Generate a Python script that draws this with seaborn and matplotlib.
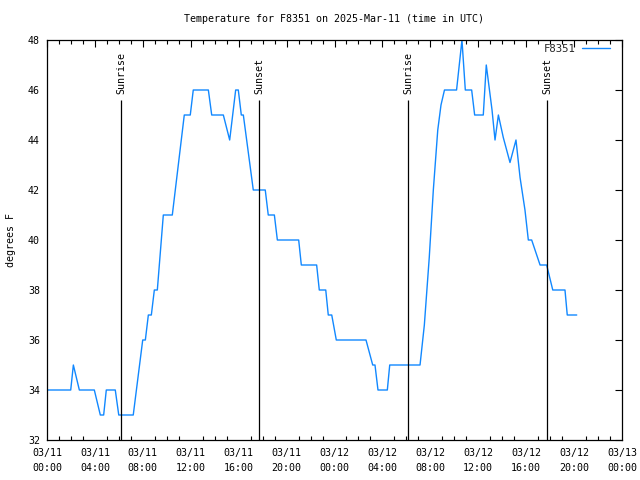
import matplotlib
matplotlib.use("Agg")
import matplotlib.pyplot as plt
from matplotlib.ticker import MultipleLocator
import seaborn as sns
import pandas as pd

# ---- data (hours since 2025-03-11 00:00 UTC, degrees F) ----
hours = [0.0, 1.98, 2.20, 2.70, 3.95, 4.45, 4.73, 4.95, 5.70, 5.99, 7.20,
         7.99, 8.21, 8.46, 8.71, 8.96, 9.21, 9.71, 10.46, 11.46, 11.96,
         12.21, 13.47, 13.75, 14.72, 15.25, 15.75, 15.97, 16.22, 16.39,
         17.22, 18.22, 18.47, 18.98, 19.23, 21.01, 21.23, 22.51, 22.73,
         23.27, 23.48, 23.77, 24.15, 26.63, 27.19, 27.38, 27.63, 28.41,
         28.61, 31.14, 31.50, 31.91, 32.25, 32.62, 32.89, 33.18, 34.19,
         34.64, 34.92, 35.45, 35.70, 36.42, 36.67, 37.15, 37.40, 37.68,
         38.09, 38.65, 39.15, 39.49, 39.90, 40.18, 40.46, 41.16, 41.71,
         42.22, 43.24, 43.43, 44.22]
temps = [34, 34, 35, 34, 34, 33, 33, 34, 34, 33, 33,
         36, 36, 37, 37, 38, 38, 41, 41, 45, 45,
         46, 46, 45, 45, 44, 46, 46, 45, 45,
         42, 42, 41, 41, 40, 40, 39, 39, 38,
         38, 37, 37, 36, 36, 35, 35, 34, 34,
         35, 35, 36.6, 39.3, 42, 44.4, 45.4, 46, 46,
         48, 46, 46, 45, 45, 47, 45.2, 44, 45,
         44.1, 43.1, 44, 42.5, 41.2, 40, 40, 39, 39,
         38, 38, 37, 37]

event_hours = [6.18, 17.71, 30.16, 41.77]
event_labels = ["Sunrise", "Sunset", "Sunrise", "Sunset"]

xtick_pos = [0, 4, 8, 12, 16, 20, 24, 28, 32, 36, 40, 44, 48]
xtick_labels = ["03/11\n00:00", "03/11\n04:00", "03/11\n08:00", "03/11\n12:00",
                "03/11\n16:00", "03/11\n20:00", "03/12\n00:00", "03/12\n04:00",
                "03/12\n08:00", "03/12\n12:00", "03/12\n16:00", "03/12\n20:00",
                "03/13\n00:00"]
ytick_pos = [32, 34, 36, 38, 40, 42, 44, 46, 48]

series_name = "F8351"
title = "Temperature for F8351 on 2025-Mar-11 (time in UTC)"

df = pd.DataFrame({"hours": hours, "temp": temps})

sns.set_theme(style="white")
plt.rcParams["font.family"] = ["DejaVu Sans Mono", "DejaVu Sans"]
FS = 7.2

fig = plt.figure(figsize=(6.4, 4.8), dpi=100)
ax = fig.add_axes([47 / 640, 40 / 480, 575 / 640, 400 / 480])

sns.lineplot(data=df, x="hours", y="temp", ax=ax, color="#1188ff",
             linewidth=1.0, label=series_name)

for h, lab in zip(event_hours, event_labels):
    ax.vlines(h, 32, 45.62, color="black", linewidth=0.9)
    ax.text(h, 45.82, lab, rotation=90, ha="center", va="bottom",
            fontsize=FS, color="black")

ax.set_xlim(0, 48)
ax.set_ylim(32, 48)
ax.set_xticks(xtick_pos)
ax.set_xticklabels(xtick_labels, linespacing=1.55)
ax.set_yticks(ytick_pos)
ax.xaxis.set_minor_locator(MultipleLocator(1))
ax.tick_params(axis="both", which="major", direction="in", length=5,
               width=0.8, top=True, right=True, labelsize=FS, pad=5,
               color="black", labelcolor="black")
ax.tick_params(axis="x", which="major", pad=6)
ax.tick_params(axis="both", which="minor", direction="in", length=3,
               width=0.8, top=True, right=True, color="black")
ax.tick_params(axis="x", which="minor", bottom=True, top=True)
for s in ax.spines.values():
    s.set_color("black")
    s.set_linewidth(0.9)
    s.set_visible(True)

ax.set_xlabel("")
ax.set_ylabel("degrees F", fontsize=FS, color="black", labelpad=9)
fig.text(334 / 640, 1 - 19 / 480, title, ha="center", va="center",
         fontsize=FS, color="black")

leg = ax.legend(loc="upper right", bbox_to_anchor=(0.993, 1.01),
                frameon=False, markerfirst=False,
                fontsize=FS + 0.5, handlelength=2.6, borderaxespad=0.35,
                handletextpad=0.6)

fig.savefig("out.png", dpi=100)
